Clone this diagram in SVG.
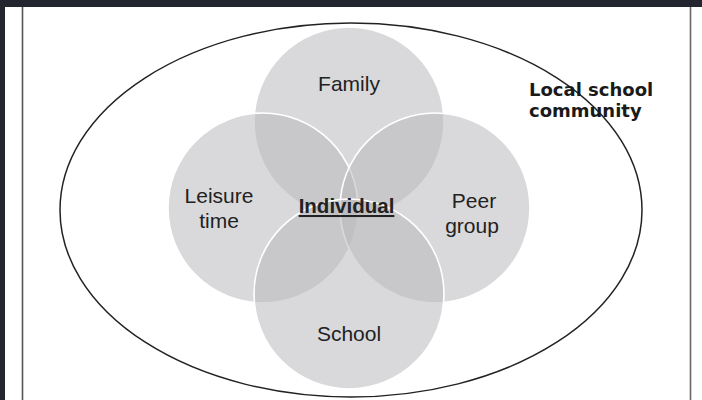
<svg xmlns="http://www.w3.org/2000/svg" width="702" height="400" viewBox="0 0 702 400">
<style>
.c{fill:#bababe;fill-opacity:0.55;stroke:#ffffff;stroke-width:1.6}
.t{font-family:"Liberation Sans",Arial,sans-serif;font-size:21px;fill:#222;text-anchor:middle}
.b{font-family:"DejaVu Sans",Verdana,sans-serif;font-weight:bold;font-size:18px;fill:#1a1a1a}
</style>
<rect x="0" y="0" width="702" height="400" fill="#ffffff"/>
<rect x="0" y="0" width="702" height="7" fill="#23262f"/>
<rect x="0" y="0" width="5" height="400" fill="#23262f"/>
<line x1="22.5" y1="7" x2="22.5" y2="400" stroke="#555" stroke-width="1.6"/>
<line x1="690.5" y1="7" x2="690.5" y2="400" stroke="#666" stroke-width="1.6"/>
<g id="community">
<ellipse cx="351" cy="210" rx="291" ry="187" fill="none" stroke="#222" stroke-width="1.5"/>
<text class="b" x="529" y="96">Local school</text>
<text class="b" x="529" y="117">community</text>
</g>
<g id="family"><circle class="c" cx="349" cy="122" r="95"/></g>
<g id="leisure"><circle class="c" cx="263" cy="208" r="95"/></g>
<g id="peer"><circle class="c" cx="435" cy="208" r="95"/></g>
<g id="school"><circle class="c" cx="349" cy="294" r="95"/></g>
<g id="labels">
<text class="t" x="349" y="91">Family</text>
<text class="t" x="219" y="203">Leisure</text>
<text class="t" x="219" y="228">time</text>
<text class="t" x="474" y="208">Peer</text>
<text class="t" x="472" y="233">group</text>
<text class="t" x="349" y="341">School</text>
<text class="t" x="346.5" y="213" style="font-weight:bold;font-size:20.5px;text-decoration:underline">Individual</text>
</g>
<g id="connectors"/>
</svg>
